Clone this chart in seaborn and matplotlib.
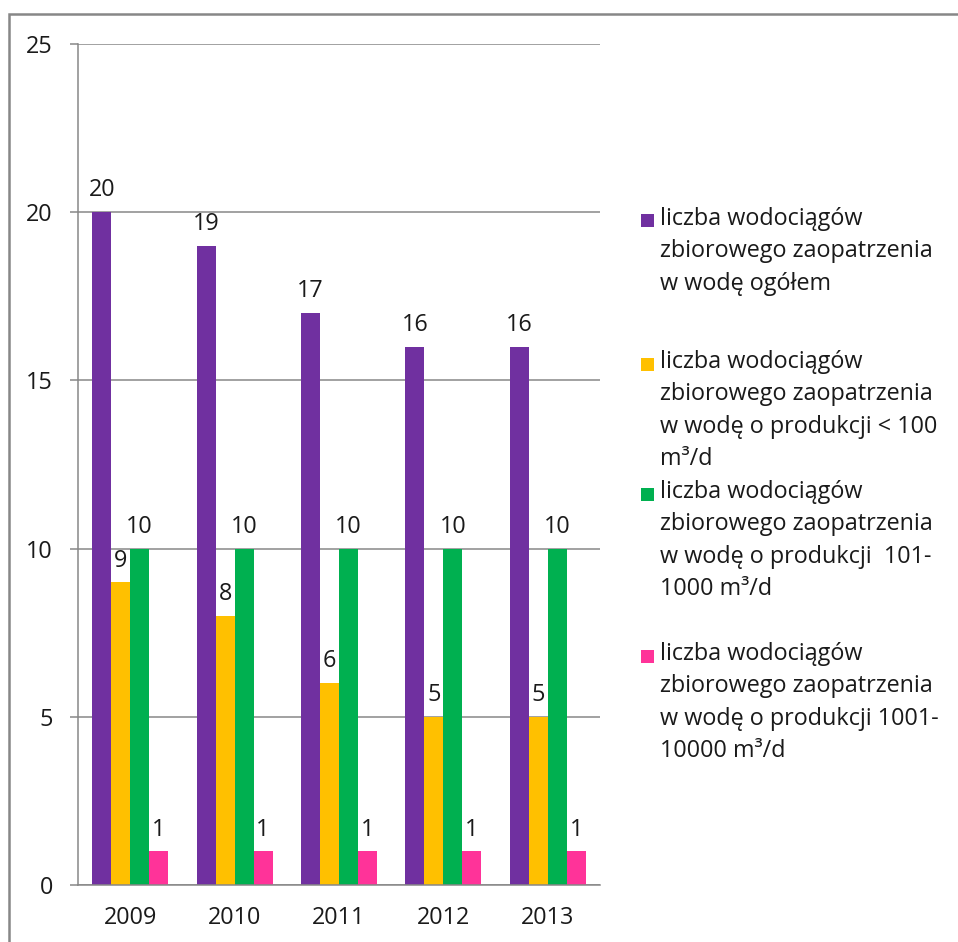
import numpy as np
import pandas as pd
import matplotlib
matplotlib.use("Agg")
import matplotlib.pyplot as plt
import seaborn as sns
from matplotlib.patches import Patch, Rectangle
from matplotlib.legend_handler import HandlerPatch

# ── Dane ────────────────────────────────────────────────────────────────────

LATA = ["2009", "2010", "2011", "2012", "2013"]

OGOLEM = [20, 19, 17, 16, 16]
PONIZEJ_100 = [9, 8, 6, 5, 5]
OD_101_DO_1000 = [10, 10, 10, 10, 10]
OD_1001_DO_10000 = [1, 1, 1, 1, 1]

SERIE = [
    "liczba wodociągów\nzbiorowego zaopatrzenia\nw wodę ogółem",
    "liczba wodociągów\nzbiorowego zaopatrzenia\nw wodę o produkcji < 100\nm³/d",
    "liczba wodociągów\nzbiorowego zaopatrzenia\nw wodę o produkcji  101-\n1000 m³/d",
    "liczba wodociągów\nzbiorowego zaopatrzenia\nw wodę o produkcji 1001-\n10000 m³/d",
]

KOLORY = ["#7030A0", "#FFC000", "#00B050", "#FF3399"]

# ── Styl ────────────────────────────────────────────────────────────────────

SZARY = "#878787"
TEKST = "#1a1a1a"
FONT = 16.8
LINE_STEP_PT = 22.7          # odstęp między wierszami legendy (pt)

sns.set_theme(style="white")
plt.rcParams["font.family"] = ["Open Sans", "DejaVu Sans"]
plt.rcParams["text.color"] = TEKST
plt.rcParams["xtick.color"] = TEKST
plt.rcParams["ytick.color"] = TEKST

df = pd.DataFrame({
    "rok": np.repeat(LATA, 4),
    "seria": SERIE * len(LATA),
    "liczba": np.column_stack([OGOLEM, PONIZEJ_100, OD_101_DO_1000, OD_1001_DO_10000]).ravel(),
})

fig = plt.figure(figsize=(9.58, 9.42), dpi=100)
ax = fig.add_axes([0.0814, 0.0605, 0.5449, 0.8928])

sns.barplot(
    data=df, x="rok", y="liczba", hue="seria",
    order=LATA, hue_order=SERIE, palette=KOLORY,
    width=0.727, saturation=1, linewidth=0, legend=False, ax=ax,
)

for cont in ax.containers:
    ax.bar_label(cont, padding=7, fontsize=FONT, color=TEKST)

# ── Osie ────────────────────────────────────────────────────────────────────

ax.set_ylim(0, 25)
ax.set_yticks(range(0, 26, 5))
ax.set_xlim(-0.5, len(LATA) - 0.5)
ax.set_xlabel("")
ax.set_ylabel("")
ax.yaxis.grid(True, color=SZARY, linewidth=1.1)
ax.set_axisbelow(True)

for side in ["top", "right"]:
    ax.spines[side].set_visible(False)
for side in ["left", "bottom"]:
    ax.spines[side].set_color(SZARY)
    ax.spines[side].set_linewidth(1.1)

ax.set_xticks(np.arange(-0.5, len(LATA), 1), minor=True)
ax.tick_params(axis="x", which="major", length=0, pad=15, labelsize=FONT)
ax.tick_params(axis="x", which="minor", length=6, width=1.1, color=SZARY, direction="out")
ax.tick_params(axis="y", length=6, width=1.1, color=SZARY, direction="out", pad=12, labelsize=FONT)
ax.tick_params(bottom=True, left=True)

# ── Legenda (kwadrat przy pierwszym wierszu opisu) ──────────────────────────

def kwadrat_na_gorze(n_lines):
    def make(legend, orig_handle, xdescent, ydescent, width, height, fontsize):
        shift = (n_lines - 1) * LINE_STEP_PT / 2
        return Rectangle((-xdescent, -ydescent + (height - width) / 2 + shift), width, width)
    return HandlerPatch(patch_func=make)


LEGENDA_Y = [207, 350, 480, 642]   # górna krawędź wpisów (px)

for label, kolor, y_px in zip(SERIE, KOLORY, LEGENDA_Y):
    uchwyt = Patch(facecolor=kolor, edgecolor="none")
    n = label.count("\n") + 1
    leg = fig.legend(
        handles=[uchwyt], labels=[label],
        loc="upper left", bbox_to_anchor=(641 / 958, 1 - y_px / 942),
        frameon=False, fontsize=FONT, borderpad=0, borderaxespad=0,
        handlelength=0.55, handleheight=0.55, handletextpad=0.27,
        handler_map={uchwyt: kwadrat_na_gorze(n)},
    )
    for t in leg.get_texts():
        t.set_linespacing(1.47)
        t.set_color(TEKST)

# ramka wykresu
fig.add_artist(Rectangle((8.5 / 958, -0.1), 1.2, 1.1 - 14 / 942,
                         transform=fig.transFigure, fill=False,
                         edgecolor=SZARY, linewidth=1.8))

fig.savefig("out.png", dpi=100)
